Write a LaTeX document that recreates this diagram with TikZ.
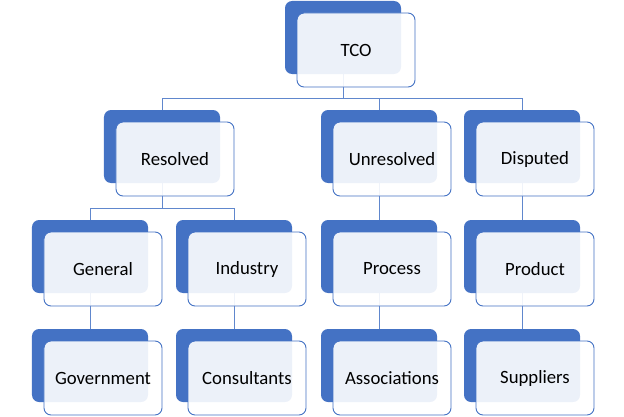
\documentclass[tikz,border=0pt]{standalone}
\usepackage{fontspec}
\setmainfont{Carlito}
\usetikzlibrary{calc}
\definecolor{chartblue}{HTML}{4472C4}
\pgfdeclarelayer{background}
\pgfsetlayers{background,main}

\begin{document}
\begin{tikzpicture}[x=0.03cm, y=-0.03cm,
    back/.style={fill=chartblue, rounded corners=6pt, inner sep=0pt,
                 minimum width=3.48cm, minimum height=2.19cm},
    front/.style={draw=chartblue, line width=0.8pt, fill=white, fill opacity=0.9,
                  text opacity=1, rounded corners=6pt, inner sep=0pt,
                  minimum width=3.54cm, minimum height=2.22cm,
                  font=\fontsize{16}{19}\selectfont},
    link/.style={draw=chartblue!85, line width=0.75pt}]
  \useasboundingbox (0,0) rectangle (624,416);
  % Top
  \node[back] (tco) at (343,37.5) {};
  \node[front] (tcot) at ($(tco)+(13,12.5)$) {TCO};
  % Second row
  \node[back] (res) at (162,146.5) {};
  \node[front] (rest) at ($(res)+(13,12.5)$) {Resolved};
  \node[back] (unr) at (379,146.5) {};
  \node[front] (unrt) at ($(unr)+(13,12.5)$) {Unresolved};
  \node[back] (dis) at (522,146.5) {};
  \node[front] (dist) at ($(dis)+(13,12.5)$) {Disputed};
  % Third row
  \node[back] (gen) at (90,256.5) {};
  \node[front] (gent) at ($(gen)+(13,12.5)$) {General};
  \node[back] (ind) at (234,256.5) {};
  \node[front] (indt) at ($(ind)+(13,12.5)$) {Industry};
  \node[back] (proc) at (379,256.5) {};
  \node[front] (proct) at ($(proc)+(13,12.5)$) {Process};
  \node[back] (prod) at (522,256.5) {};
  \node[front] (prodt) at ($(prod)+(13,12.5)$) {Product};
  % Bottom row
  \node[back] (gov) at (90,365.5) {};
  \node[front] (govt) at ($(gov)+(13,12.5)$) {Government};
  \node[back] (cons) at (234,365.5) {};
  \node[front] (const) at ($(cons)+(13,12.5)$) {Consultants};
  \node[back] (assoc) at (379,365.5) {};
  \node[front] (assoct) at ($(assoc)+(13,12.5)$) {Associations};
  \node[back] (supp) at (522,365.5) {};
  \node[front] (suppt) at ($(supp)+(13,12.5)$) {Suppliers};
  % Connectors
  \begin{pgfonlayer}{background}
    \coordinate (bus1) at (0,98.5);
    \coordinate (bus2) at (0,208.5);
    \draw[link] (tco.south) -- (tco.south |- bus1) -| (res.north);
    \draw[link] (tco.south) -- (tco.south |- bus1) -| (unr.north);
    \draw[link] (tco.south) -- (tco.south |- bus1) -| (dis.north);
    \draw[link] (res.south) -- (res.south |- bus2) -| (gen.north);
    \draw[link] (res.south) -- (res.south |- bus2) -| (ind.north);
    \draw[link] (unr.south) -- (proc.north);
    \draw[link] (dis.south) -- (prod.north);
    \draw[link] (gen.south) -- (gov.north);
    \draw[link] (ind.south) -- (cons.north);
    \draw[link] (proc.south) -- (assoc.north);
    \draw[link] (prod.south) -- (supp.north);
  \end{pgfonlayer}
\end{tikzpicture}
\end{document}
